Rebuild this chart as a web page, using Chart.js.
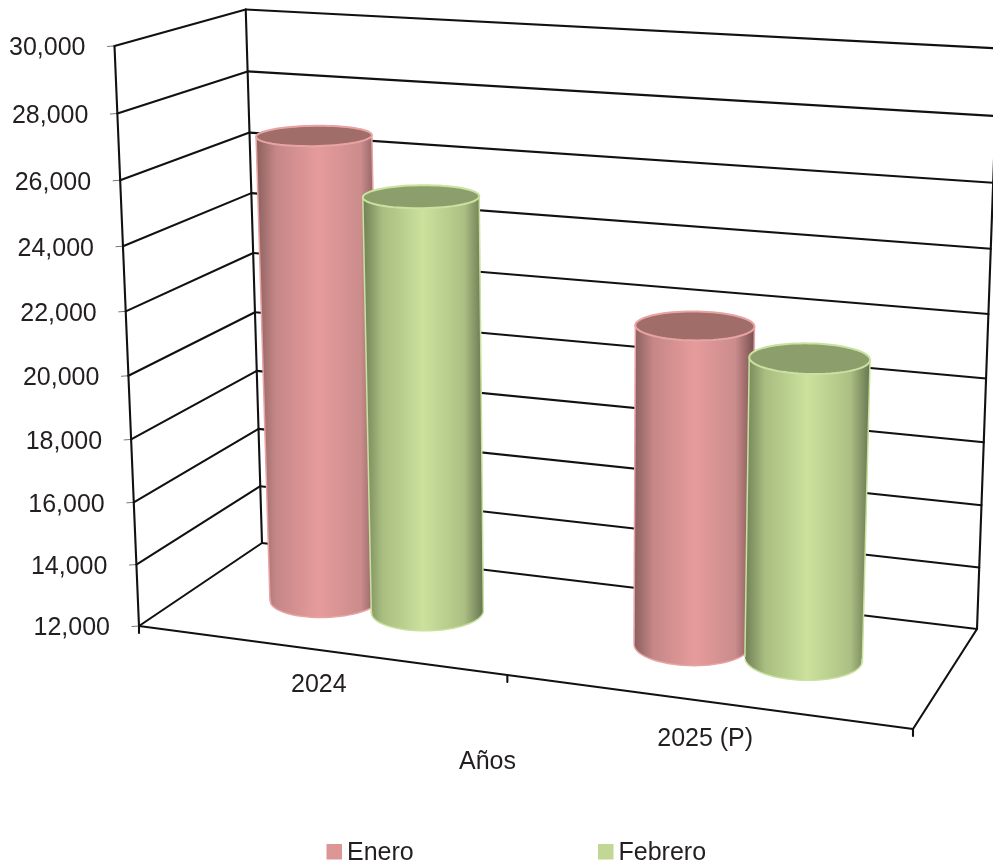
<!DOCTYPE html>
<html>
<head>
<meta charset="utf-8">
<title>Enero y Febrero por año</title>
<script src="https://cdn.jsdelivr.net/npm/chart.js@4"></script>
<style>
  html, body { margin: 0; padding: 0; background: #fff; }
  canvas { display: block; }
</style>
</head>
<body>
<canvas id="chart" width="993" height="865"></canvas>
<script>
// Data
const years = ['2024', '2025 (P)'];
const enero = [26890, 21980];
const febrero = [25250, 21300];
const axisMin = 12000, axisMax = 30000, axisStep = 2000;
const axisTitle = 'Años';

const INK = '#231f20';
const FONT = '25px "Liberation Sans", Arial, sans-serif';
const PINK = { side: ['#8a5f5d', '#c68787', '#e69b9b', '#cb8c8c', '#76504e'], top: '#a06d68', edge: '#e8a4a4', key: '#dd9696' };
const GREEN = { side: ['#6f8055', '#a8bd80', '#cbe19c', '#adc084', '#667550'], top: '#8c9e6c', edge: '#c9e29f', key: '#c3d795' };
const DEPTH = 0.205; // cylinder radius along the depth axis
const MID = 0.497;   // cylinder centre along the depth axis

// Floor of the box: homography from (u, w) in 0..1, front-left, front-right, back-right, back-left
const floor = [[139, 626], [913, 729], [977, 629], [262, 543]];
// Homogeneous column added per unit of height
const UP = [-30.4, -582.4, -0.0515];

function fitFloor(q) {
  const dx1 = q[1][0] - q[2][0], dx2 = q[3][0] - q[2][0], sx = q[0][0] - q[1][0] + q[2][0] - q[3][0];
  const dy1 = q[1][1] - q[2][1], dy2 = q[3][1] - q[2][1], sy = q[0][1] - q[1][1] + q[2][1] - q[3][1];
  const den = dx1 * dy2 - dx2 * dy1;
  const g = (sx * dy2 - dx2 * sy) / den, h = (dx1 * sy - sx * dy1) / den;
  return {
    g, h,
    a: q[1][0] - q[0][0] + g * q[1][0], b: q[3][0] - q[0][0] + h * q[3][0], c: q[0][0],
    d: q[1][1] - q[0][1] + g * q[1][1], e: q[3][1] - q[0][1] + h * q[3][1], f: q[0][1],
  };
}
const F = fitFloor(floor);

function project(u, v, w) {
  const den = 1 + F.g * u + F.h * w + v * UP[2];
  return [
    (F.a * u + F.b * w + F.c + v * UP[0]) / den,
    (F.d * u + F.e * w + F.f + v * UP[1]) / den,
  ];
}

function line(ctx, p, q) {
  ctx.beginPath();
  ctx.moveTo(p[0], p[1]);
  ctx.lineTo(q[0], q[1]);
  ctx.stroke();
}

function ellipsePts(uc, v, ru) {
  const pts = [];
  for (let i = 0; i < 72; i++) {
    const t = i / 72 * Math.PI * 2;
    pts.push(project(uc + ru * Math.cos(t), v, MID + DEPTH * Math.sin(t)));
  }
  return pts;
}

function poly(ctx, pts) {
  ctx.beginPath();
  pts.forEach((p, i) => i ? ctx.lineTo(p[0], p[1]) : ctx.moveTo(p[0], p[1]));
  ctx.closePath();
}

function extremes(pts) {
  let l = pts[0], r = pts[0];
  pts.forEach(p => { if (p[0] < l[0]) l = p; if (p[0] > r[0]) r = p; });
  return [l, r];
}

function drawCylinder(ctx, uc, v, ru, col) {
  const low = ellipsePts(uc, 0, ru), high = ellipsePts(uc, v, ru);
  const [bl, br] = extremes(low), [tl, tr] = extremes(high);
  const grad = ctx.createLinearGradient(Math.min(bl[0], tl[0]), 0, Math.max(br[0], tr[0]), 0);
  [0, 0.16, 0.5, 0.84, 1].forEach((s, i) => grad.addColorStop(s, col.side[i]));

  ctx.fillStyle = grad;
  poly(ctx, low); ctx.fill();
  ctx.beginPath();
  ctx.moveTo(bl[0], bl[1]); ctx.lineTo(tl[0], tl[1]); ctx.lineTo(tr[0], tr[1]); ctx.lineTo(br[0], br[1]);
  ctx.closePath(); ctx.fill();

  ctx.strokeStyle = col.edge;
  ctx.lineWidth = 1.5;
  line(ctx, bl, tl);
  line(ctx, br, tr);
  // front half of the base
  const front = low.filter(p => p[1] >= (bl[1] + br[1]) / 2 - 1).sort((a, b) => a[0] - b[0]);
  ctx.beginPath();
  front.forEach((p, i) => i ? ctx.lineTo(p[0], p[1]) : ctx.moveTo(p[0], p[1]));
  ctx.stroke();

  ctx.fillStyle = col.top;
  poly(ctx, high); ctx.fill();
  ctx.lineWidth = 2;
  ctx.stroke();
}

const box3d = {
  id: 'box3d',
  beforeDatasetsDraw(chart) {
    const { ctx, scales: { y } } = chart;
    const span = axisMax - axisMin;
    ctx.save();
    ctx.lineCap = 'round';
    y.ticks.forEach(t => {
      const v = (t.value - axisMin) / span;
      const p = project(0, v, 0);
      ctx.strokeStyle = '#777';
      ctx.lineWidth = 1;
      line(ctx, [p[0] - 7, p[1] + 0.5], p);
      ctx.strokeStyle = '#111';
      ctx.lineWidth = 2.1;
      line(ctx, p, project(0, v, 1));
      line(ctx, project(0, v, 1), project(1, v, 1));
      ctx.fillStyle = INK;
      ctx.font = FONT;
      ctx.textAlign = 'right';
      ctx.textBaseline = 'middle';
      ctx.fillText(t.label, p[0] - 29, p[1] + 2.5);
    });
    ctx.strokeStyle = '#111';
    ctx.lineWidth = 2.1;
    line(ctx, project(0, 0, 0), project(0, 1, 0));
    line(ctx, project(0, 0, 1), project(0, 1, 1));
    line(ctx, project(1, 0, 1), project(1, 1, 1));
    line(ctx, project(0, 0, 0), project(1, 0, 0));
    line(ctx, project(1, 0, 0), project(1, 0, 1));
    // category ticks on the front edge
    [0, 0.5, 1].forEach(u => {
      const p = project(u, 0, 0);
      line(ctx, p, [p[0], p[1] + 7]);
    });
    ctx.restore();
  },
  afterDatasetsDraw(chart) {
    const { ctx, chartArea: a, scales: { x } } = chart;
    ctx.save();
    [PINK, GREEN].forEach((col, i) => {
      chart.getDatasetMeta(i).data.forEach(el => {
        const u = (el.x - a.left) / (a.right - a.left);
        const ru = el.width / 2 / (a.right - a.left);
        const v = (a.bottom - el.y) / (a.bottom - a.top);
        drawCylinder(ctx, u, v, ru, col);
      });
    });
    // category labels, axis title and legend
    ctx.fillStyle = INK;
    ctx.font = FONT;
    ctx.textBaseline = 'middle';
    ctx.textAlign = 'center';
    x.ticks.forEach((t, i) => {
      const p = project((x.getPixelForTick(i) - a.left) / (a.right - a.left), 0, 0);
      ctx.fillText(years[t.value], p[0], p[1] + 35 + i * 3);
    });
    ctx.fillText(axisTitle, 487.5, 762);
    ctx.textAlign = 'left';
    chart.data.datasets.forEach((ds, i) => {
      const left = [326.5, 598][i];
      ctx.fillStyle = [PINK, GREEN][i].key;
      ctx.fillRect(left, 844, 15.5, 15.5);
      ctx.fillStyle = INK;
      ctx.fillText(ds.label, left + 20.5, 853);
    });
    ctx.restore();
  },
};

new Chart(document.getElementById('chart'), {
  type: 'bar',
  data: {
    labels: years,
    datasets: [
      { label: 'Enero', data: enero, backgroundColor: 'transparent' },
      { label: 'Febrero', data: febrero, backgroundColor: 'transparent' },
    ],
  },
  options: {
    responsive: false,
    animation: false,
    layout: { padding: 0 },
    categoryPercentage: 0.575,
    barPercentage: 1,
    plugins: { legend: { display: false }, tooltip: { enabled: false } },
    scales: {
      x: { display: false },
      y: { display: false, min: axisMin, max: axisMax, ticks: { stepSize: axisStep } },
    },
  },
  plugins: [box3d],
});
</script>
</body>
</html>
